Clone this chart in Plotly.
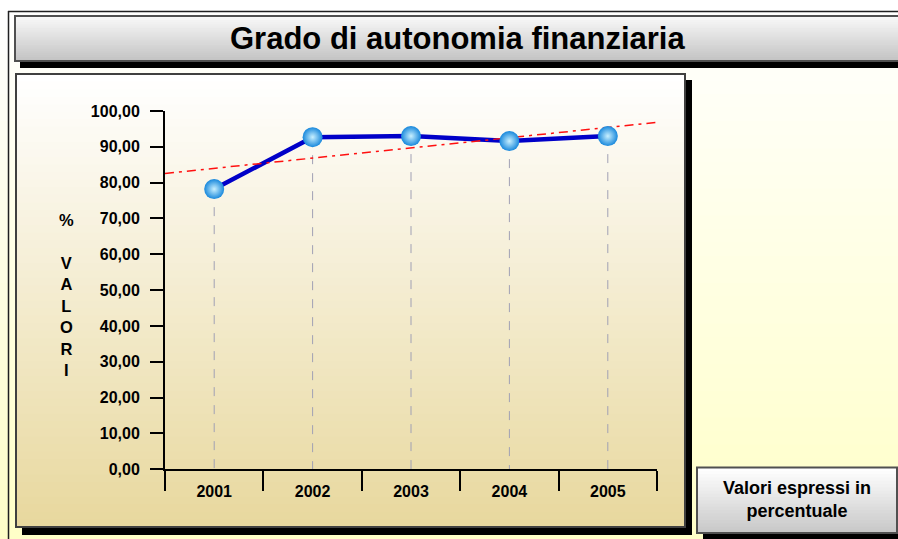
import numpy as np
import plotly.graph_objects as go

# ---------------- data ----------------
years = ["2001", "2002", "2003", "2004", "2005"]
values = [78.2, 92.7, 93.0, 91.6, 93.0]
y_ticks = [0, 10, 20, 30, 40, 50, 60, 70, 80, 90, 100]

title_text = "Grado di autonomia finanziaria"
axis_title = "%<br><br>V<br>A<br>L<br>O<br>R<br>I"
note_text = "Valori espressi in<br>percentuale"

# ---------------- helpers ----------------
W, H = 898, 539
FONT = "Liberation Sans, Arial, sans-serif"


def px(x):
    return x / W


def py(y):
    return 1 - y / H


def hex2rgb(h):
    h = h.lstrip("#")
    return [int(h[i:i + 2], 16) for i in (0, 2, 4)]


def mix(c0, c1, t):
    a, b = hex2rgb(c0), hex2rgb(c1)
    return "rgb(%d,%d,%d)" % tuple(round(a[i] + (b[i] - a[i]) * t) for i in range(3))


shapes = []


def rect(x0, y0, x1, y1, fill=None, line=None, lw=0):
    shapes.append(dict(type="rect", xref="paper", yref="paper", layer="below",
                       x0=px(x0), x1=px(x1), y0=py(y1), y1=py(y0),
                       fillcolor=fill if fill else "rgba(0,0,0,0)",
                       line=dict(color=line if line else "rgba(0,0,0,0)", width=lw)))


def grad_rect(x0, y0, x1, y1, c0, c1, n):
    # each band runs to the bottom of the box, so no seams can show
    h = (y1 - y0) / n
    for i in range(n):
        t = i / (n - 1) if n > 1 else 0
        rect(x0, y0 + i * h, x1, y1, fill=mix(c0, c1, t))


def hline(x0, x1, y, color, w):
    shapes.append(dict(type="line", xref="paper", yref="paper", layer="below",
                       x0=px(x0), x1=px(x1), y0=py(y), y1=py(y),
                       line=dict(color=color, width=w)))


def vline(x, y0, y1, color, w):
    shapes.append(dict(type="line", xref="paper", yref="paper", layer="below",
                       x0=px(x), x1=px(x), y0=py(y0), y1=py(y1),
                       line=dict(color=color, width=w)))


# page background (white at top to pale yellow at bottom)
grad_rect(0, 0, W, H, "#FFFFFF", "#FFFFC8", 40)
rect(0, 0, W, 11, fill="#FFFFFF")
# outer frame lines
hline(8, W, 11.5, "#202020", 1.5)
vline(8.5, 11, H, "#202020", 1.5)

# title bar
rect(20, 22, W + 5, 68, fill="#000000")
grad_rect(15, 16, W + 5, 61, "#F8F8F8", "#C4C4C4", 22)
rect(15, 16, W + 5, 61, line="#505050", lw=2)

# chart panel
rect(22, 80, 692, 535, fill="#000000")
grad_rect(16, 74, 685, 527, "#FFFFFF", "#E8D89E", 60)
rect(16, 74, 685, 527, line="#404040", lw=2)

# note box
rect(703, 473, W + 5, H + 5, fill="#000000")
grad_rect(697, 467.5, W - 1, 533, "#FFFFFF", "#C8C8C8", 20)
rect(697, 467.5, W - 1, 533, line="#505050", lw=2)

# ---------------- traces ----------------
xi = list(range(len(years)))

fig = go.Figure()

# vertical drop lines from each point to the axis
drop_x, drop_y = [], []
for i, v in zip(xi, values):
    drop_x += [i, i, None]
    drop_y += [v, 0, None]
fig.add_trace(go.Scatter(x=drop_x, y=drop_y, mode="lines", hoverinfo="skip",
                         line=dict(color="#A0A0B4", width=1, dash="dash"),
                         showlegend=False))

# main line
fig.add_trace(go.Scatter(x=xi, y=values, mode="lines",
                         line=dict(color="#0000C8", width=4.5), showlegend=False))

# linear trend line (least squares on the data), across the full category span
slope, intercept = np.polyfit(xi, values, 1)
tx = [xi[0] - 0.5, xi[-1] + 0.5]
ty = [slope * t + intercept for t in tx]
fig.add_trace(go.Scatter(x=tx, y=ty, mode="lines",
                         line=dict(color="#FF1010", width=1.5, dash="9px,5px,3px,5px"),
                         showlegend=False, hoverinfo="skip"))

# sphere markers
fig.add_trace(go.Scatter(x=xi, y=values, mode="markers",
                         marker=dict(size=20, color="#1888DC",
                                     gradient=dict(type="radial", color="#C8F0FF"),
                                     line=dict(width=0)),
                         showlegend=False))

# ---------------- layout ----------------
fig.update_layout(
    template="none",
    width=W, height=H,
    autosize=False,
    margin=dict(l=0, r=0, t=0, b=0, pad=0),
    paper_bgcolor="#FFFFFF",
    plot_bgcolor="rgba(0,0,0,0)",
    separators=",.",
    shapes=shapes,
    showlegend=False,
    font=dict(family=FONT, color="#000000"),
    xaxis=dict(
        domain=[px(165), px(657)],
        range=[-0.5, len(years) - 0.5],
        automargin=False,
        tickmode="array", tickvals=xi, ticktext=years,
        ticks="", showgrid=False, zeroline=False,
        showline=True, linecolor="#000000", linewidth=2,
        tickfont=dict(family=FONT, size=16, color="#000000", weight="bold"),
        minor=dict(ticks="outside", ticklen=20, tickwidth=2, tickcolor="#000000",
                   tick0=-0.5, dtick=1, showgrid=False),
        ticklabelstandoff=6,
        fixedrange=True,
    ),
    yaxis=dict(
        domain=[py(469.3), py(111)],
        range=[0, 100],
        automargin=False,
        tickmode="array", tickvals=y_ticks, tickformat=".2f",
        ticks="outside", ticklen=13, tickwidth=2, tickcolor="#000000",
        showgrid=False, zeroline=False,
        showline=True, linecolor="#000000", linewidth=2,
        tickfont=dict(family=FONT, size=16, color="#000000", weight="bold"),
        ticklabelstandoff=7,
        fixedrange=True,
    ),
    annotations=[
        dict(text=title_text, x=px(457.5), y=py(38.5), xref="paper", yref="paper",
             showarrow=False, xanchor="center", yanchor="middle",
             font=dict(family=FONT, size=31, color="#000000", weight="bold")),
        dict(text=axis_title, x=px(66), y=py(294.5), xref="paper", yref="paper",
             showarrow=False, xanchor="center", yanchor="middle", align="center",
             font=dict(family=FONT, size=16.5, color="#000000", weight="bold")),
        dict(text=note_text, x=px(797), y=py(499), xref="paper", yref="paper",
             showarrow=False, xanchor="center", yanchor="middle", align="center",
             font=dict(family=FONT, size=18, color="#000000", weight="bold")),
    ],
)

fig.write_html(
    "out.html",
    config={"displayModeBar": False, "staticPlot": True},
    post_script="document.body.style.margin='0';document.body.style.overflow='hidden';",
)
